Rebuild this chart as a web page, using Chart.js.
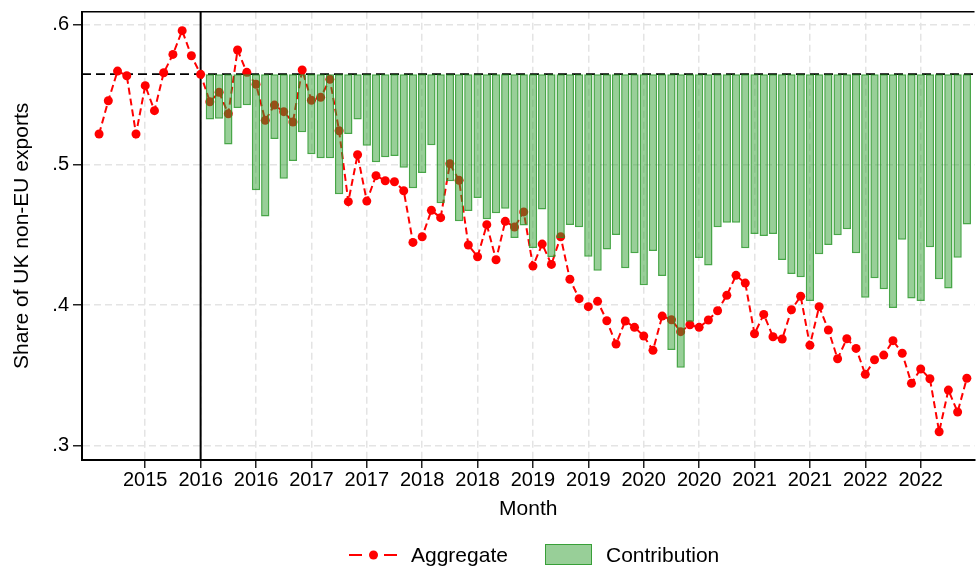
<!DOCTYPE html>
<html>
<head>
<meta charset="utf-8">
<script src="https://cdn.jsdelivr.net/npm/chart.js@4.4.1/dist/chart.umd.min.js"></script>
<style>
  html, body { margin: 0; padding: 0; background: #fff; }
  #wrap { position: relative; width: 979px; height: 572px; font-family: "Liberation Sans", Arial, sans-serif; }
  #legend { position: absolute; left: 0; top: 544px; width: 979px; height: 22px; font-size: 21px; line-height: 22px; color: #000; }
  #legend > * { position: absolute; top: 0; }
  .box { width: 47px; height: 21px; box-sizing: border-box; background: rgba(50,160,50,0.5); border: 1.5px solid rgba(40,150,40,0.85); }
</style>
</head>
<body>
<div id="wrap">
  <canvas id="chart"></canvas>
  <div id="legend">
    <svg style="left:349px" width="50" height="22">
      <line x1="0" y1="11" x2="49" y2="11" stroke="#ff0000" stroke-width="2" stroke-dasharray="13 22"/>
      <circle cx="24.5" cy="11" r="4.5" fill="#ff0000"/>
    </svg>
    <span style="left:411px">Aggregate</span>
    <div class="box" style="left:545px"></div>
    <span style="left:606px">Contribution</span>
  </div>
</div>
<script>
// months counted from Jul 2015 (index 0); referendum month is index 11
const baseline = 0.5645;
const brexitIdx = 11;
const contribStart = 12;

const tickIdx = [5, 11, 17, 23, 29, 35, 41, 47, 53, 59, 65, 71, 77, 83, 89];
const tickLabels = ['2015', '2016', '2016', '2017', '2017', '2018', '2018', '2019',
                    '2019', '2020', '2020', '2021', '2021', '2022', '2022'];
const yTicks = [0.3, 0.4, 0.5, 0.6];
const yTickLabels = ['.3', '.4', '.5', '.6'];

const aggregate = [
  0.5219, 0.5456, 0.5667, 0.5634, 0.5219, 0.5563, 0.5385, 0.5655, 0.5786, 0.5955,
  0.5776, 0.5644, 0.5449, 0.5516, 0.5363, 0.5817, 0.5658, 0.5573, 0.5316, 0.5425,
  0.5378, 0.5304, 0.5675, 0.5459, 0.5480, 0.5608, 0.5242, 0.4737, 0.5071, 0.4741,
  0.4922, 0.4886, 0.4879, 0.4815, 0.4447, 0.4487, 0.4675, 0.4623, 0.5007, 0.4889,
  0.4428, 0.4345, 0.4573, 0.4323, 0.4597, 0.4556, 0.4664, 0.4278, 0.4435, 0.4290,
  0.4487, 0.4184, 0.4046, 0.3989, 0.4027, 0.3889, 0.3723, 0.3887, 0.3842, 0.3780,
  0.3678, 0.3922, 0.3896, 0.3811, 0.3860, 0.3842, 0.3894, 0.3960, 0.4070, 0.4212,
  0.4157, 0.3796, 0.3934, 0.3775, 0.3759, 0.3967, 0.4063, 0.3714, 0.3989, 0.3823,
  0.3618, 0.3761, 0.3692, 0.3507, 0.3611, 0.3644, 0.3747, 0.3657, 0.3443, 0.3545,
  0.3476, 0.3098, 0.3395, 0.3239, 0.3479
];

// from index 12 onwards
const contribution = [
  0.5323, 0.5328, 0.5145, 0.5404, 0.5423, 0.4818, 0.4632, 0.5183, 0.4900, 0.5026,
  0.5231, 0.5074, 0.5046, 0.5046, 0.4789, 0.5219, 0.5323, 0.5135, 0.5017, 0.5053,
  0.5062, 0.4979, 0.4832, 0.4941, 0.5138, 0.4725, 0.4882, 0.4597, 0.4670, 0.4763,
  0.4611, 0.4654, 0.4687, 0.4478, 0.4568, 0.4407, 0.4682, 0.4343, 0.4476, 0.4570,
  0.4554, 0.4345, 0.4245, 0.4397, 0.4499, 0.4262, 0.4369, 0.4141, 0.4385, 0.4207,
  0.3680, 0.3554, 0.3882, 0.4335, 0.4283, 0.4554, 0.4587, 0.4587, 0.4405, 0.4506,
  0.4492, 0.4506, 0.4321, 0.4222, 0.4198, 0.4029, 0.4362, 0.4428, 0.4497, 0.4540,
  0.4369, 0.4053, 0.4191, 0.4113, 0.3979, 0.4466, 0.4048, 0.4029, 0.4412, 0.4184,
  0.4119, 0.4338, 0.4575
];

Chart.defaults.font.family = '"Liberation Sans", Arial, sans-serif';
Chart.defaults.color = '#000';

const refLines = {
  id: 'refLines',
  beforeDatasetsDraw(chart) {
    const { ctx, chartArea: a, scales: { x, y } } = chart;
    ctx.save();
    ctx.strokeStyle = '#000';
    // pre-referendum level
    const yb = y.getPixelForValue(baseline);
    ctx.lineWidth = 1.8;
    ctx.setLineDash([9, 5]);
    ctx.beginPath(); ctx.moveTo(a.left, yb); ctx.lineTo(a.right, yb); ctx.stroke();
    // referendum
    const xr = x.getPixelForValue(brexitIdx);
    ctx.setLineDash([]);
    ctx.lineWidth = 2;
    ctx.beginPath(); ctx.moveTo(xr, a.top); ctx.lineTo(xr, a.bottom); ctx.stroke();
    // top frame
    ctx.lineWidth = 1.5;
    ctx.beginPath(); ctx.moveTo(a.left, a.top); ctx.lineTo(a.right, a.top); ctx.stroke();
    ctx.restore();
  }
};

const gridStyle = {
  color: '#e4e4e4',
  lineWidth: 1.5,
  offset: false,
  tickColor: '#222',
  tickWidth: 1.5,
  tickBorderDash: []
};

new Chart(document.getElementById('chart'), {
  type: 'line',
  data: {
    datasets: [
      {
        label: 'Aggregate',
        type: 'line',
        order: 1,
        data: aggregate.map((v, i) => ({ x: i, y: v })),
        borderColor: '#ff0000',
        borderWidth: 2,
        borderDash: [7, 4],
        pointRadius: 4.5,
        pointBorderWidth: 0,
        pointBackgroundColor: '#ff0000',
        pointHoverRadius: 0,
        tension: 0
      },
      {
        label: 'Contribution',
        type: 'bar',
        order: 0,
        data: contribution.map((v, i) => ({ x: contribStart + i, y: [baseline, v] })),
        backgroundColor: 'rgba(50,160,50,0.5)',
        borderColor: 'rgba(40,150,40,0.85)',
        borderWidth: 1.5,
        borderSkipped: false,
        barPercentage: 0.9,
        categoryPercentage: 1.0
      }
    ]
  },
  options: {
    responsive: true,
    maintainAspectRatio: false,
    animation: false,
    events: [],
    layout: { padding: { left: 0, right: 0, top: 11.7, bottom: 50 } },
    plugins: { legend: { display: false }, tooltip: { enabled: false } },
    scales: {
      x: {
        type: 'linear',
        min: -1.85,
        max: 94.83,
        offset: false,
        afterBuildTicks: s => { s.ticks = tickIdx.map(v => ({ value: v })); },
        afterFit: s => { s.height = 62; s.paddingLeft = 0; s.paddingRight = 0; },
        ticks: {
          autoSkip: false, maxRotation: 0, minRotation: 0, padding: 0,
          font: { size: 20 },
          callback: (v, i) => tickLabels[i]
        },
        grid: Object.assign({ tickLength: 8 }, gridStyle),
        border: { color: '#000', width: 2, dash: [7, 4] },
        title: { display: true, text: 'Month', font: { size: 21 }, padding: { top: 0, bottom: 0 } }
      },
      y: {
        type: 'linear',
        min: 0.2897,
        max: 0.609,
        afterBuildTicks: s => { s.ticks = yTicks.map(v => ({ value: v })); },
        afterFit: s => { s.width = 82; s.paddingTop = 0; s.paddingBottom = 0; },
        ticks: {
          padding: 4,
          font: { size: 20 },
          callback: (v, i) => yTickLabels[i]
        },
        grid: Object.assign({ tickLength: 9 }, gridStyle),
        border: { color: '#000', width: 2, dash: [7, 4] },
        title: { display: true, text: 'Share of UK non-EU exports', font: { size: 21 }, padding: { top: 10, bottom: 0 } }
      }
    }
  },
  plugins: [refLines]
});
</script>
</body>
</html>
